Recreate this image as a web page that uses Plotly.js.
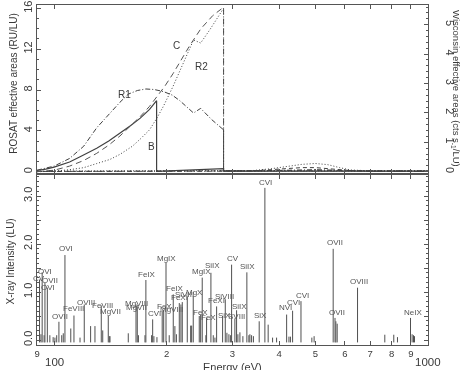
<!DOCTYPE html>
<html><head><meta charset="utf-8">
<script src="https://cdn.plot.ly/plotly-3.0.1.min.js"></script>
<style>html,body{margin:0;padding:0;background:#fff}#chart{width:461px;height:370px;filter:grayscale(100%)}</style>
</head><body><div id="chart"></div>
<script>
// ---------- Top panel: ROSAT effective areas (RU/LU) vs energy (eV) ----------
const bEnergy = [90, 95, 100, 110, 117, 130, 140, 150, 160, 170, 180, 188, 188, 284, 284, 1000];
const bArea   = [0.12, 0.25, 0.45, 0.95, 1.45, 2.3, 3.0, 3.75, 4.5, 5.25, 6.1, 6.95, 0.03, 0.3, 0.05, 0.05];
const cEnergy = [90, 100, 110, 120, 130, 140, 150, 160, 170, 180, 188, 198, 208, 219, 231, 247, 266, 284, 284, 1000];
const cArea   = [0, 0.15, 0.55, 1.1, 1.8, 2.6, 3.5, 4.45, 5.4, 6.4, 7.3, 8.4, 9.6, 11.0, 12.4, 14.0, 15.3, 16.1, 0.05, 0.05];
const r1Energy = [90, 100, 110, 120, 130, 141, 150, 158, 167, 176, 185, 196, 207, 217, 236, 246.6, 264, 284, 284, 1000];
const r1Area   = [0.15, 0.55, 1.3, 2.5, 4.3, 5.75, 6.8, 7.6, 7.95, 8.1, 8.05, 7.85, 7.5, 6.95, 5.75, 6.2, 5.1, 4.1, 0.1, 0.1];
const r2Energy = [90, 100, 110, 120, 130, 141, 150, 162, 170, 180, 188, 196, 208, 221, 236, 246.6, 261, 284, 284, 1000];
const r2Area   = [0, 0.05, 0.2, 0.4, 0.8, 1.2, 1.7, 2.5, 3.2, 4.1, 5.2, 6.4, 8.35, 10.6, 12.9, 12.6, 13.9, 16.0, 0.08, 0.08];
// Wisconsin effective areas (cts s^-1 / LU)
const wEnergy  = [90, 284, 340, 380, 420, 460, 500, 540, 580, 620, 700, 800, 1000];
const wDotted  = [0.02, 0.02, 0.04, 0.1, 0.18, 0.25, 0.28, 0.24, 0.14, 0.06, 0.03, 0.02, 0.02];
const wDashed  = [0.01, 0.01, 0.03, 0.07, 0.11, 0.14, 0.14, 0.11, 0.07, 0.04, 0.02, 0.01, 0.01];
const wDashDot = [0.01, 0.01, 0.02, 0.04, 0.06, 0.07, 0.07, 0.06, 0.04, 0.02, 0.01, 0.01, 0.01];
const curveLabels = ['R1', 'C', 'R2', 'B'];
const curveLabelE = [154.7, 212.5, 248.1, 182.3];
const curveLabelA = [7.6, 12.35, 10.3, 2.5];

// ---------- Bottom panel: X-ray line intensities (LU) ----------
const strongE = [91.4, 92.9, 94.5, 95.9, 103.0, 106.9, 110.8, 113.0, 120.4, 125.2, 128.6, 133.7, 134.9, 139.6, 141.1,
  157.9, 165.6, 166.9, 176.0, 183.5, 194.6, 196.4, 199.2, 203.2, 208.3, 210.4, 216.2, 218.4, 220.2, 227.1, 231.9, 235.6,
  244.5, 246.6, 249.0, 255.8, 262.7, 266.5, 272.1, 282.3, 287.0, 298.4, 304.5, 307.7, 314.1, 327.8, 334.0, 337.5,
  353.7, 366.3, 373.8, 384.1, 393.7, 418.8, 424.8, 434.5, 457.5, 496.1, 557.9, 564.2, 567.2, 571.8, 648.2,
  766.8, 810.3, 829.0, 898.3, 907.2, 915.0, 920.7];
const strongI = [1.26, 1.41, 1.20, 1.09, 0.38, 1.77, 0.24, 0.51, 0.74, 0.29, 0.29, 0.72, 0.2, 0.5, 0.08,
  0.14, 0.74, 0.7, 1.25, 0.43, 0.6, 0.63, 1.61, 0.1, 0.95, 0.29, 0.77, 0.74, 0.79, 0.91, 0.3, 0.91,
  0.5, 0.53, 1.3, 0.46, 1.4, 0.1, 0.7, 0.5, 0.85, 1.57, 0.45, 0.62, 0.16, 1.41, 0.12, 0.1,
  0.39, 3.17, 0.32, 0.05, 0.05, 0.53, 0.07, 0.61, 0.81, 0.08, 1.9, 0.46, 0.39, 0.34, 1.09,
  0.11, 0.11, 0.06, 0.46, 0.12, 0.1, 0.08];
const weakE = [92.2, 94.0, 97.4, 99.4, 100.5, 101.6, 104.8, 105.8, 117.3, 140.5, 168.1, 175.0, 182.3, 184.9, 188.4,
  212.4, 233.3, 254.7, 269.3, 289.9, 293.5, 296.6, 310.2, 319.9, 331.9, 341.3, 428.7, 489.2];
const weakI = [0.12, 0.1, 0.1, 0.06, 0.05, 0.1, 0.1, 0.14, 0.05, 0.08, 0.1, 0.1, 0.1, 0.08, 0.06,
  0.12, 0.3, 0.1, 0.05, 0.15, 0.12, 0.1, 0.12, 0.08, 0.1, 0.08, 0.07, 0.05];
const lineLabels = ['CV', 'OVI', 'OVII', 'OVI', 'OVI', 'OVII', 'FeVIII', 'OVIII', 'FeVIII', 'MgVII', 'MgVIII', 'MgVII',
  'FeIX', 'CVI', 'FeX', 'MgVIII', 'MgIX', 'FeIX', 'FeXI', 'SiVIII', 'MgX', 'MgIX', 'SiIX', 'FeX', 'FeX', 'FeXI',
  'SiVIII', 'SiX', 'CV', 'SiIX', 'SVIII', 'SiIX', 'SiX', 'CVI', 'NVI', 'CVI', 'CVI', 'OVII', 'OVII', 'OVIII', 'NeIX'];
const lineLabelE = [91.1, 94.5, 97.2, 96.0, 107.9, 103.7, 113.0, 121.7, 134.3, 141.1, 166.6, 165.6,
  177.1, 186.1, 197.9, 206.6, 200.4, 210.5, 217.1, 223.9, 238.1, 248.1, 265.9, 247.0, 259.5, 272.6,
  286.4, 286.4, 300.9, 314.1, 308.4, 329.9, 357.5, 368.7, 417.0, 436.7, 462.1, 563.7, 569.6, 654.7, 909.4];
const lineLabelI = [1.28, 1.43, 1.24, 1.09, 1.91, 0.49, 0.66, 0.78, 0.72, 0.59, 0.76, 0.68,
  1.36, 0.55, 0.70, 0.64, 1.70, 1.07, 0.89, 0.95, 0.99, 1.43, 1.55, 0.57, 0.47, 0.82,
  0.91, 0.51, 1.70, 0.70, 0.49, 1.53, 0.51, 3.28, 0.68, 0.78, 0.93, 2.03, 0.57, 1.22, 0.57];

const xTickVals = [90, 100, 200, 300, 400, 500, 600, 700, 800, 900, 1000];
const xTickText = ['9', '', '2', '3', '4', '5', '6', '7', '8', '9', ''];

const ink = '#404040', axisCol = '#555', txt = '#3a3a3a';
const fam = '"Liberation Sans", Arial, Helvetica, sans-serif';
const base = -0.05;

function sticks(E, I) {
  const x = [], y = [];
  E.forEach((e, i) => { x.push(e, e, null); y.push(base, I[i], null); });
  return {x, y};
}
const s1 = sticks(strongE, strongI), s2 = sticks(weakE, weakI);

const traces = [
  {x: bEnergy, y: bArea, xaxis: 'x2', yaxis: 'y2', mode: 'lines', line: {color: ink, width: 1.2}},
  {x: cEnergy, y: cArea, xaxis: 'x2', yaxis: 'y2', mode: 'lines', line: {color: '#555', width: 1.0, dash: '6px,4px'}},
  {x: r1Energy, y: r1Area, xaxis: 'x2', yaxis: 'y2', mode: 'lines', line: {color: ink, width: 1.0, dash: '5px,2px,1px,2px'}},
  {x: r2Energy, y: r2Area, xaxis: 'x2', yaxis: 'y2', mode: 'lines', line: {color: ink, width: 1.0, dash: '1px,2px'}},
  {x: wEnergy, y: wDotted, xaxis: 'x2', yaxis: 'y3', mode: 'lines', line: {color: ink, width: 1.0, dash: '1px,2px'}},
  {x: wEnergy, y: wDashed, xaxis: 'x2', yaxis: 'y3', mode: 'lines', line: {color: ink, width: 1.0, dash: '4px,3px'}},
  {x: wEnergy, y: wDashDot, xaxis: 'x2', yaxis: 'y3', mode: 'lines', line: {color: ink, width: 1.0, dash: '5px,2px,1px,2px'}},
  {x: s1.x, y: s1.y, xaxis: 'x', yaxis: 'y', mode: 'lines', line: {color: '#505050', width: 1}},
  {x: s2.x, y: s2.y, xaxis: 'x', yaxis: 'y', mode: 'lines', line: {color: '#505050', width: 1}}
];

const annotations = [];
lineLabels.forEach((t, i) => annotations.push({text: t, x: Math.log10(lineLabelE[i]), y: lineLabelI[i], xref: 'x', yref: 'y',
  showarrow: false, xanchor: 'center', yanchor: 'middle', font: {size: 8, color: '#555', family: fam}}));
curveLabels.forEach((t, i) => annotations.push({text: t, x: Math.log10(curveLabelE[i]), y: curveLabelA[i], xref: 'x2', yref: 'y2',
  showarrow: false, xanchor: 'center', yanchor: 'middle', font: {size: 10, color: txt, family: fam}}));
annotations.push(
  {text: '100', x: 2, xref: 'x', y: -0.05, yref: 'paper', showarrow: false, yanchor: 'middle', font: {size: 11.5, color: txt}},
  {text: '1000', x: 3, xref: 'x', y: -0.05, yref: 'paper', showarrow: false, yanchor: 'middle', font: {size: 11.5, color: txt}},
  {text: 'Energy (eV)', x: 0.5, xref: 'paper', y: -0.066, yref: 'paper', showarrow: false, yanchor: 'middle', font: {size: 11, color: txt}},
  {text: 'ROSAT effective areas (RU/LU)', x: -0.061, xref: 'paper', y: 0.769, yref: 'paper', textangle: -90, showarrow: false,
    xanchor: 'center', yanchor: 'middle', font: {size: 10, color: txt}},
  {text: 'X-ray Intensity (LU)', x: -0.068, xref: 'paper', y: 0.247, yref: 'paper', textangle: -90, showarrow: false,
    xanchor: 'center', yanchor: 'middle', font: {size: 10, color: txt}},
  {text: 'Wisconsin effective areas (cts s<sub>-1</sub>/LU)', x: 1.0716, xref: 'paper', y: 0.753, yref: 'paper', textangle: 90,
    showarrow: false, xanchor: 'center', yanchor: 'middle', font: {size: 9.5, color: txt}}
);

const xr = [Math.log10(89.99), Math.log10(1000.5)];
const common = {showgrid: false, zeroline: false, showline: true, linecolor: axisCol, linewidth: 1,
  ticks: 'inside', tickcolor: axisCol, tickwidth: 1};

const layout = {
  width: 461, height: 370, margin: {l: 37, r: 33, t: 5, b: 25}, showlegend: false,
  paper_bgcolor: '#fff', plot_bgcolor: '#fff',
  font: {family: fam, size: 10, color: txt},
  xaxis: Object.assign({}, common, {type: 'log', range: xr, domain: [0, 1], anchor: 'y', mirror: 'ticks', ticklen: 4,
    tickmode: 'array', tickvals: xTickVals, ticktext: xTickText, tickfont: {size: 9.5}, tickangle: 0}),
  yaxis: Object.assign({}, common, {domain: [0, 0.5], anchor: 'x', range: [-0.104, 3.438], mirror: 'ticks', ticklen: 4,
    tickmode: 'array', tickvals: [0, 0.5, 1, 1.5, 2, 2.5, 3], ticktext: ['0.0', '', '1.0', '', '2.0', '', '3.0'],
    tickangle: -90, tickfont: {size: 11},
    minor: {dtick: 0.1, ticks: 'inside', ticklen: 2, tickcolor: axisCol}}),
  xaxis2: Object.assign({}, common, {type: 'log', range: xr, domain: [0, 1], anchor: 'y2', mirror: 'ticks', ticklen: 4,
    tickmode: 'array', tickvals: [100, 200, 300, 400, 500, 600, 700, 800, 900, 1000], showticklabels: false}),
  yaxis2: Object.assign({}, common, {domain: [0.506, 1], anchor: 'x2', range: [-0.12, 16.32], mirror: true, ticklen: 4,
    tickmode: 'array', tickvals: [0, 4, 8, 12, 16], tickangle: -90, tickfont: {size: 11},
    minor: {dtick: 1, ticks: 'inside', ticklen: 2, tickcolor: axisCol}}),
  yaxis3: Object.assign({}, common, {overlaying: 'y2', side: 'right', anchor: 'x2', range: [-0.042, 5.67], ticklen: 4,
    tickmode: 'array', tickvals: [0, 1, 2, 3, 4, 5], tickangle: 90, tickfont: {size: 11}, ticklabelstandoff: 13,
    minor: {dtick: 0.2, ticks: 'inside', ticklen: 2, tickcolor: axisCol}}),
  annotations: annotations
};

Plotly.newPlot('chart', traces, layout, {displayModeBar: false, staticPlot: true});
</script>
</body></html>
